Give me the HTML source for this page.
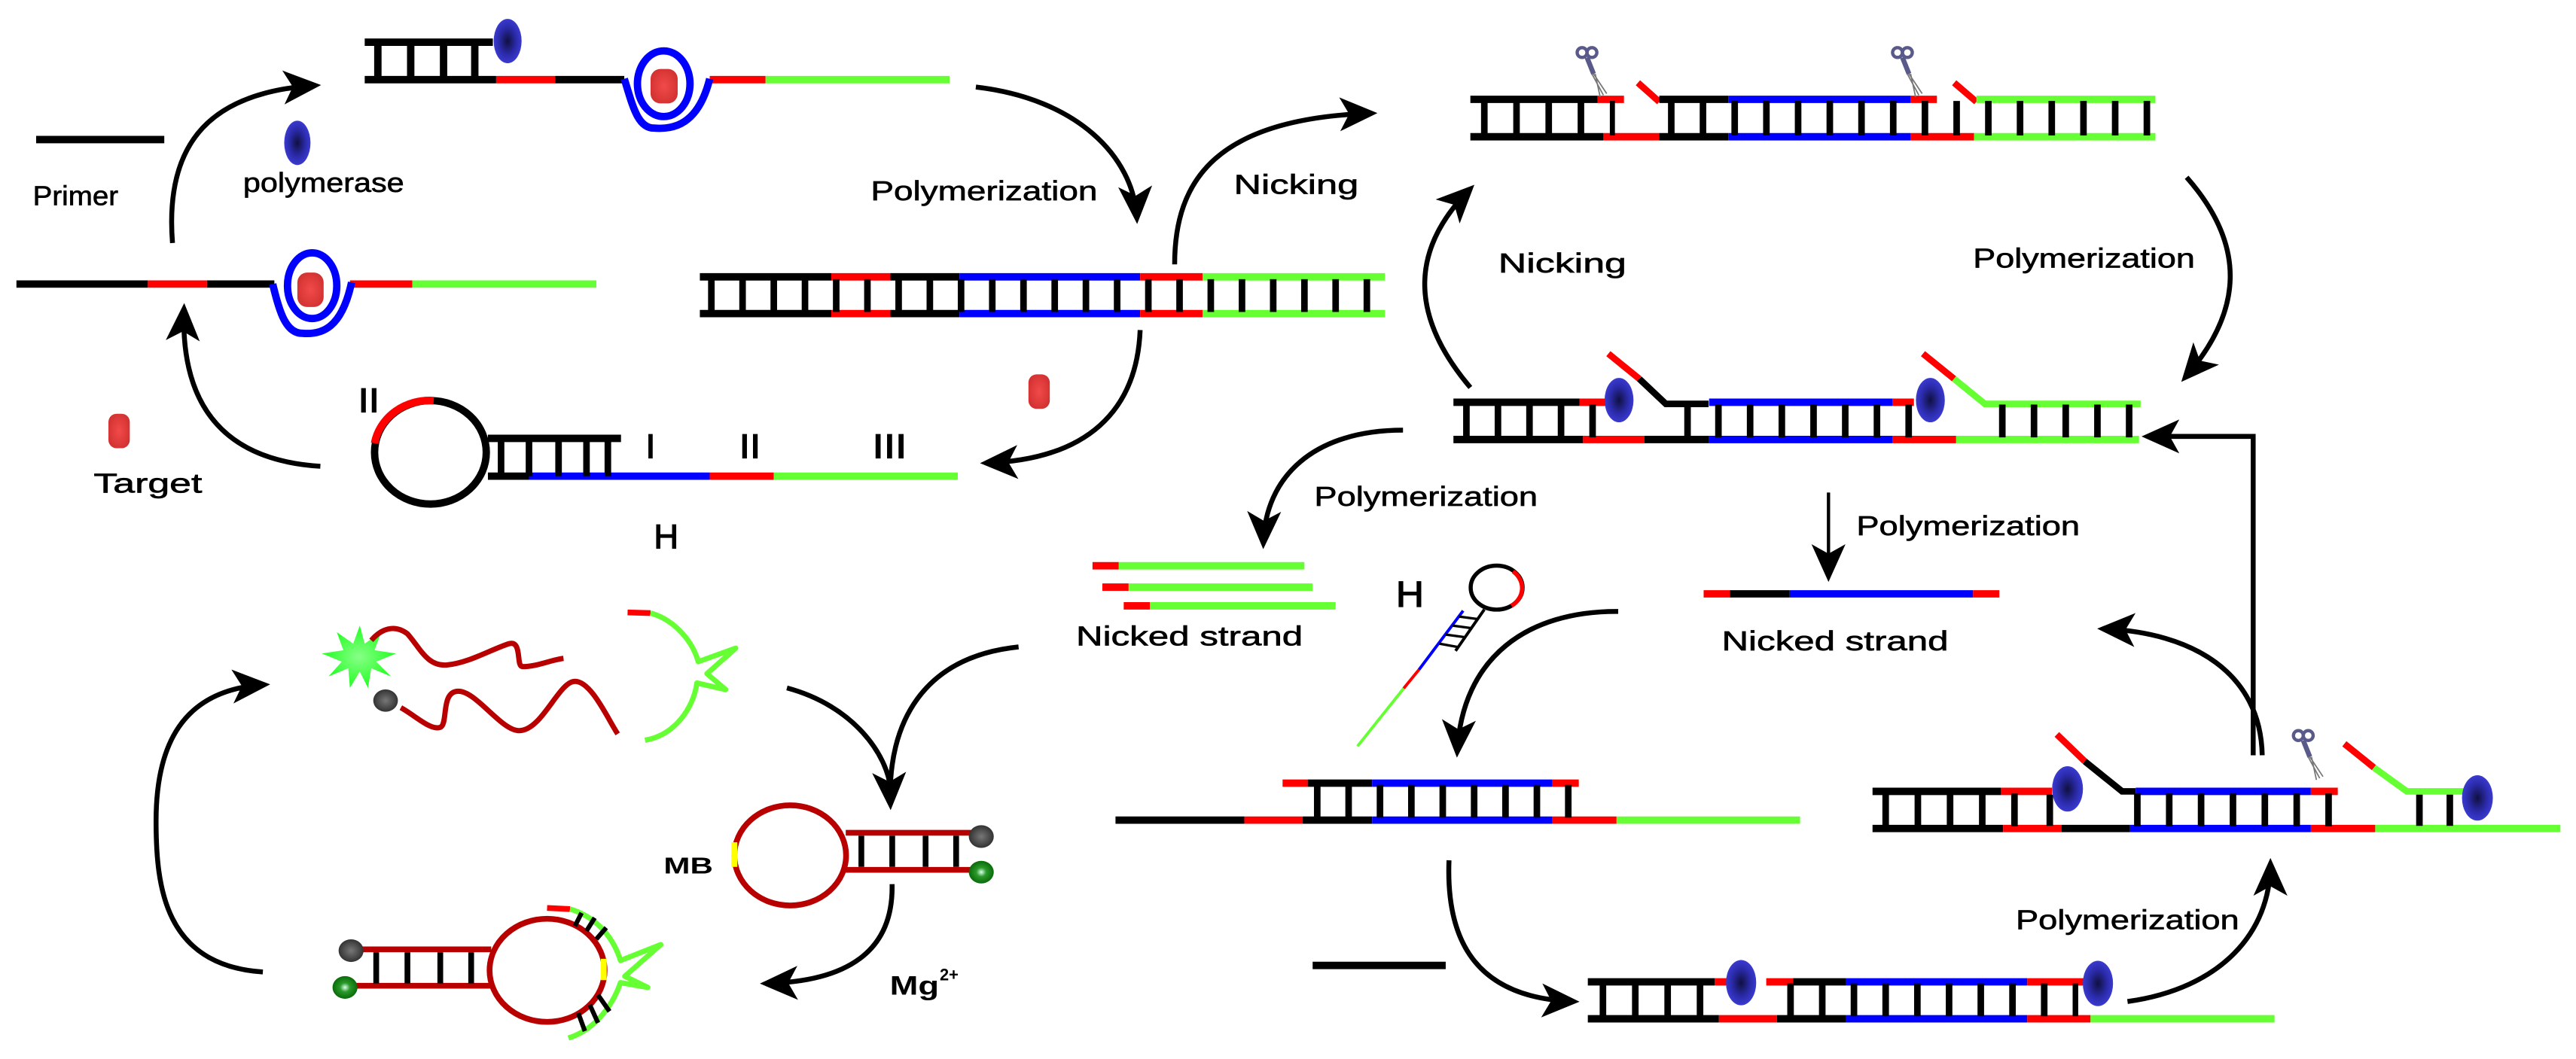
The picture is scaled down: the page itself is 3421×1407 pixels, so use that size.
<!DOCTYPE html>
<html><head><meta charset="utf-8"><style>
html,body{margin:0;padding:0;background:#fff;}
svg{display:block;}
text{font-family:"Liberation Sans",sans-serif;fill:#000;}
</style></head><body>
<svg width="3421" height="1407" viewBox="0 0 1568 645" preserveAspectRatio="none" xmlns="http://www.w3.org/2000/svg">
<defs>
<marker id="ah" viewBox="0 0 20 20" refX="17" refY="10" markerWidth="23" markerHeight="23" markerUnits="userSpaceOnUse" orient="auto">
<path d="M0,1 L20,10 L0,19 L5,10 Z" fill="#000"/></marker>
<radialGradient id="pg" cx="50%" cy="50%" r="50%"><stop offset="0" stop-color="#101040"/><stop offset="0.6" stop-color="#2a2aa8"/><stop offset="1" stop-color="#3a3ad0"/></radialGradient>
<radialGradient id="tg" cx="50%" cy="50%" r="60%"><stop offset="0" stop-color="#f24a4a"/><stop offset="1" stop-color="#d03030"/></radialGradient>
<radialGradient id="gb" cx="50%" cy="50%" r="50%"><stop offset="0" stop-color="#777"/><stop offset="1" stop-color="#333"/></radialGradient>
<radialGradient id="gg" cx="50%" cy="50%" r="50%"><stop offset="0" stop-color="#dfe"/><stop offset="0.4" stop-color="#2a9a2a"/><stop offset="1" stop-color="#0a6a0a"/></radialGradient>
<radialGradient id="sg" cx="50%" cy="50%" r="50%"><stop offset="0" stop-color="#8f8"/><stop offset="1" stop-color="#2f2"/></radialGradient>
<g id="sc"><circle cx="-3" cy="-1" r="3" fill="none" stroke="#5a5a8a" stroke-width="2"/><circle cx="3" cy="-1" r="3" fill="none" stroke="#5a5a8a" stroke-width="2"/><line x1="0" y1="2" x2="4" y2="12" stroke="#5a5a8a" stroke-width="3"/><path d="M3,12 L10,25 M4,12 L12,24 M5,12 L8,26" stroke="#777" stroke-width="0.8" fill="none"/></g>
</defs>

<g fill="none" stroke-linecap="butt">
<line x1="22" y1="85" x2="100" y2="85" stroke="#000" stroke-width="4.5"/>
<ellipse cx="181" cy="87" rx="8" ry="13.5" fill="url(#pg)" stroke="none"/>
<path d="M105,148 C100,85 130,56 192,52" stroke="#000" stroke-width="3" marker-end="url(#ah)"/>

<line x1="222" y1="25.7" x2="300" y2="25.7" stroke="#000" stroke-width="4.5"/>
<line x1="222" y1="48.5" x2="302" y2="48.5" stroke="#000" stroke-width="4.5"/>
<line x1="302" y1="48.5" x2="338" y2="48.5" stroke="#f00" stroke-width="4.5"/>
<line x1="338" y1="48.5" x2="380" y2="48.5" stroke="#000" stroke-width="4.5"/>
<line x1="432" y1="48.5" x2="466" y2="48.5" stroke="#f00" stroke-width="4.5"/>
<line x1="466" y1="48.5" x2="578" y2="48.5" stroke="#66ff33" stroke-width="4.5"/>
<g stroke="#000" stroke-width="4.5"><line x1="230" y1="26" x2="230" y2="48"/><line x1="250" y1="26" x2="250" y2="48"/><line x1="270" y1="26" x2="270" y2="48"/><line x1="289" y1="26" x2="289" y2="48"/></g>
<ellipse cx="309" cy="25" rx="8.5" ry="13.5" fill="url(#pg)" stroke="none"/>
<rect x="396" y="42" width="16.5" height="21" rx="6" fill="url(#tg)" stroke="none"/>
<ellipse cx="404" cy="51" rx="16" ry="20" stroke="#0000ff" stroke-width="4.5"/>
<path d="M380,48 C385,64 388,78 398,78 C410,79 425,76 432,48" stroke="#0000ff" stroke-width="4.5"/>

<path d="M594,53 C655,60 690,95 692,133" stroke="#000" stroke-width="3" marker-end="url(#ah)"/>

<line x1="10" y1="173" x2="90" y2="173" stroke="#000" stroke-width="4.5"/>
<line x1="90" y1="173" x2="126" y2="173" stroke="#f00" stroke-width="4.5"/>
<line x1="126" y1="173" x2="167" y2="173" stroke="#000" stroke-width="4.5"/>
<line x1="213" y1="173" x2="251" y2="173" stroke="#f00" stroke-width="4.5"/>
<line x1="251" y1="173" x2="363" y2="173" stroke="#66ff33" stroke-width="4.5"/>
<rect x="181" y="166" width="16" height="21" rx="6" fill="url(#tg)" stroke="none"/>
<ellipse cx="190" cy="174" rx="15" ry="20" stroke="#0000ff" stroke-width="4.5"/>
<path d="M166,173 C170,190 174,203 184,203 C196,204 208,200 214,172" stroke="#0000ff" stroke-width="4.5"/>

<path d="M195,284 C130,280 110,240 112,188" stroke="#000" stroke-width="3" marker-end="url(#ah)"/>
<rect x="66" y="252" width="13" height="21" rx="5" fill="url(#tg)" stroke="none"/>

<ellipse cx="262" cy="275.5" rx="34" ry="31.5" stroke="#000" stroke-width="4.5"/>
<path d="M228,270 A34,31.5 0 0 1 264,244" stroke="#f00" stroke-width="4.6"/>
<line x1="297" y1="267" x2="378" y2="267" stroke="#000" stroke-width="4.5"/>
<line x1="297" y1="290" x2="322" y2="290" stroke="#000" stroke-width="4.5"/>
<line x1="322" y1="290" x2="432" y2="290" stroke="#0000ff" stroke-width="4.5"/>
<line x1="432" y1="290" x2="471" y2="290" stroke="#f00" stroke-width="4.5"/>
<line x1="471" y1="290" x2="583" y2="290" stroke="#66ff33" stroke-width="4.5"/>
<g stroke="#000" stroke-width="4"><line x1="305" y1="267" x2="305" y2="290"/><line x1="322" y1="267" x2="322" y2="290"/><line x1="340" y1="267" x2="340" y2="290"/><line x1="357" y1="267" x2="357" y2="290"/><line x1="370" y1="267" x2="370" y2="290"/></g>

<line x1="426" y1="168.6" x2="506" y2="168.6" stroke="#000" stroke-width="4.5"/>
<line x1="506" y1="168.6" x2="542" y2="168.6" stroke="#f00" stroke-width="4.5"/>
<line x1="542" y1="168.6" x2="584" y2="168.6" stroke="#000" stroke-width="4.5"/>
<line x1="584" y1="168.6" x2="694" y2="168.6" stroke="#0000ff" stroke-width="4.5"/>
<line x1="694" y1="168.6" x2="732" y2="168.6" stroke="#f00" stroke-width="4.5"/>
<line x1="732" y1="168.6" x2="843" y2="168.6" stroke="#66ff33" stroke-width="4.5"/>
<line x1="426" y1="191" x2="506" y2="191" stroke="#000" stroke-width="4.5"/>
<line x1="506" y1="191" x2="542" y2="191" stroke="#f00" stroke-width="4.5"/>
<line x1="542" y1="191" x2="584" y2="191" stroke="#000" stroke-width="4.5"/>
<line x1="584" y1="191" x2="694" y2="191" stroke="#0000ff" stroke-width="4.5"/>
<line x1="694" y1="191" x2="732" y2="191" stroke="#f00" stroke-width="4.5"/>
<line x1="732" y1="191" x2="843" y2="191" stroke="#66ff33" stroke-width="4.5"/>
<line x1="431" y1="180" x2="842" y2="180" stroke="#000" stroke-width="20" stroke-dasharray="4 15"/>

<rect x="626" y="228" width="13" height="21" rx="5" fill="url(#tg)" stroke="none"/>
<path d="M694,201 C692,250 662,280 600,282" stroke="#000" stroke-width="3" marker-end="url(#ah)"/>
<path d="M715,161 C715,110 740,72 835,69" stroke="#000" stroke-width="3" marker-end="url(#ah)"/>

<line x1="895" y1="60.5" x2="972.5" y2="60.5" stroke="#000" stroke-width="4.5"/>
<line x1="972.5" y1="60.5" x2="988.5" y2="60.5" stroke="#f00" stroke-width="4.5"/>
<line x1="997" y1="50.4" x2="1010" y2="62" stroke="#f00" stroke-width="4"/>
<line x1="1010" y1="60.5" x2="1052" y2="60.5" stroke="#000" stroke-width="4.5"/>
<line x1="1052" y1="60.5" x2="1163" y2="60.5" stroke="#0000ff" stroke-width="4.5"/>
<line x1="1163" y1="60.5" x2="1179" y2="60.5" stroke="#f00" stroke-width="4.5"/>
<line x1="1189.5" y1="50.4" x2="1203" y2="62" stroke="#f00" stroke-width="4"/>
<line x1="1203" y1="60.5" x2="1312" y2="60.5" stroke="#66ff33" stroke-width="4.5"/>
<line x1="895" y1="83.3" x2="976" y2="83.3" stroke="#000" stroke-width="4.5"/>
<line x1="976" y1="83.3" x2="1010" y2="83.3" stroke="#f00" stroke-width="4.5"/>
<line x1="1010" y1="83.3" x2="1052" y2="83.3" stroke="#000" stroke-width="4.5"/>
<line x1="1052" y1="83.3" x2="1163" y2="83.3" stroke="#0000ff" stroke-width="4.5"/>
<line x1="1163" y1="83.3" x2="1201.6" y2="83.3" stroke="#f00" stroke-width="4.5"/>
<line x1="1201.6" y1="83.3" x2="1312" y2="83.3" stroke="#66ff33" stroke-width="4.5"/>
<line x1="901.5" y1="72" x2="983" y2="72" stroke="#000" stroke-width="21" stroke-dasharray="4 15.6"/>
<line x1="1015.3" y1="72" x2="1312" y2="72" stroke="#000" stroke-width="21" stroke-dasharray="4 15.3"/>
<use href="#sc" x="966" y="33"/>
<use href="#sc" x="1158" y="33"/>

<path d="M895,236 C856,190 860,150 895,115" stroke="#000" stroke-width="3" marker-end="url(#ah)"/>
<path d="M1331,108 C1368,150 1365,190 1330,230" stroke="#000" stroke-width="3" marker-end="url(#ah)"/>

<line x1="884.7" y1="245" x2="961.4" y2="245" stroke="#000" stroke-width="4.5"/>
<line x1="961.4" y1="245" x2="977" y2="245" stroke="#f00" stroke-width="4.5"/>
<line x1="979" y1="215.4" x2="997.8" y2="230.7" stroke="#f00" stroke-width="4"/>
<polyline points="997.8,230.7 1014,246 1040,246" stroke="#000" stroke-width="4"/>
<line x1="1040.3" y1="245" x2="1152" y2="245" stroke="#0000ff" stroke-width="4.5"/>
<line x1="1152" y1="245" x2="1165" y2="245" stroke="#f00" stroke-width="4.5"/>
<line x1="1170.5" y1="215.4" x2="1189.4" y2="230.7" stroke="#f00" stroke-width="4"/>
<polyline points="1189.4,230.7 1208.2,246 1303,246" stroke="#66ff33" stroke-width="4"/>
<line x1="884.7" y1="267.7" x2="963.6" y2="267.7" stroke="#000" stroke-width="4.5"/>
<line x1="963.6" y1="267.7" x2="1000.9" y2="267.7" stroke="#f00" stroke-width="4.5"/>
<line x1="1000.9" y1="267.7" x2="1040.3" y2="267.7" stroke="#000" stroke-width="4.5"/>
<line x1="1040.3" y1="267.7" x2="1152" y2="267.7" stroke="#0000ff" stroke-width="4.5"/>
<line x1="1152" y1="267.7" x2="1190.7" y2="267.7" stroke="#f00" stroke-width="4.5"/>
<line x1="1190.7" y1="267.7" x2="1302" y2="267.7" stroke="#66ff33" stroke-width="4.5"/>
<line x1="890.6" y1="256.4" x2="972" y2="256.4" stroke="#000" stroke-width="20" stroke-dasharray="4 15.2"/>
<line x1="1027.2" y1="246" x2="1027.2" y2="267" stroke="#000" stroke-width="4"/>
<line x1="1044" y1="256.4" x2="1165" y2="256.4" stroke="#000" stroke-width="20" stroke-dasharray="4 15.3"/>
<line x1="1216.8" y1="256.4" x2="1300" y2="256.4" stroke="#000" stroke-width="20" stroke-dasharray="4 15.3"/>
<ellipse cx="985.5" cy="243.7" rx="8.8" ry="13.5" fill="url(#pg)" stroke="none"/>
<ellipse cx="1175" cy="243.7" rx="8.8" ry="13.5" fill="url(#pg)" stroke="none"/>

<polyline points="1371.5,460 1371.5,265.8 1307,265.8" stroke="#000" stroke-width="3" marker-end="url(#ah)"/>
<path d="M854,262 C800,262 770,290 769,331" stroke="#000" stroke-width="3" marker-end="url(#ah)"/>
<line x1="1113" y1="300" x2="1113" y2="351" stroke="#000" stroke-width="2" marker-end="url(#ah)"/>

<line x1="665" y1="344.6" x2="681" y2="344.6" stroke="#f00" stroke-width="4.5"/>
<line x1="681" y1="344.6" x2="794" y2="344.6" stroke="#66ff33" stroke-width="4.5"/>
<line x1="671" y1="357.6" x2="687" y2="357.6" stroke="#f00" stroke-width="4.5"/>
<line x1="687" y1="357.6" x2="799" y2="357.6" stroke="#66ff33" stroke-width="4.5"/>
<line x1="684" y1="369" x2="700" y2="369" stroke="#f00" stroke-width="4.5"/>
<line x1="700" y1="369" x2="813" y2="369" stroke="#66ff33" stroke-width="4.5"/>

<line x1="1037" y1="361.7" x2="1053" y2="361.7" stroke="#f00" stroke-width="4.5"/>
<line x1="1053" y1="361.7" x2="1089.4" y2="361.7" stroke="#000" stroke-width="4.5"/>
<line x1="1089.4" y1="361.7" x2="1201" y2="361.7" stroke="#0000ff" stroke-width="4.5"/>
<line x1="1201" y1="361.7" x2="1217" y2="361.7" stroke="#f00" stroke-width="4.5"/>

<ellipse cx="911" cy="357.9" rx="15.8" ry="13.4" stroke="#000" stroke-width="2.5"/>
<path d="M921,348 A15.8,13.4 0 0 1 920,369" stroke="#f00" stroke-width="2.6"/>
<line x1="890.6" y1="372" x2="863.7" y2="407.9" stroke="#0000ff" stroke-width="1.8"/>
<line x1="863.7" y1="407.9" x2="854.4" y2="419.3" stroke="#f00" stroke-width="1.8"/>
<line x1="854.4" y1="419.3" x2="826.3" y2="454.5" stroke="#66ff33" stroke-width="1.8"/>
<line x1="903.5" y1="371.2" x2="886" y2="396.4" stroke="#000" stroke-width="1.8"/>
<g stroke="#000" stroke-width="1.5"><line x1="888" y1="375.5" x2="899" y2="377"/><line x1="884" y1="381" x2="895" y2="382.5"/><line x1="880" y1="386.5" x2="891" y2="388"/><line x1="876" y1="392" x2="887" y2="394"/></g>
<path d="M985,372.4 C930,372 890,400 887,458" stroke="#000" stroke-width="3" marker-end="url(#ah)"/>

<line x1="780.7" y1="477" x2="796" y2="477" stroke="#f00" stroke-width="4.5"/>
<line x1="796" y1="477" x2="835.2" y2="477" stroke="#000" stroke-width="4.5"/>
<line x1="835.2" y1="477" x2="945" y2="477" stroke="#0000ff" stroke-width="4.5"/>
<line x1="945" y1="477" x2="961" y2="477" stroke="#f00" stroke-width="4.5"/>
<line x1="679" y1="499.5" x2="757.4" y2="499.5" stroke="#000" stroke-width="4.5"/>
<line x1="757.4" y1="499.5" x2="793" y2="499.5" stroke="#f00" stroke-width="4.5"/>
<line x1="793" y1="499.5" x2="835.2" y2="499.5" stroke="#000" stroke-width="4.5"/>
<line x1="835.2" y1="499.5" x2="945" y2="499.5" stroke="#0000ff" stroke-width="4.5"/>
<line x1="945" y1="499.5" x2="984" y2="499.5" stroke="#f00" stroke-width="4.5"/>
<line x1="984" y1="499.5" x2="1095.7" y2="499.5" stroke="#66ff33" stroke-width="4.5"/>
<line x1="799.8" y1="488" x2="960" y2="488" stroke="#000" stroke-width="20" stroke-dasharray="4 15.1"/>

<path d="M882,524 C880,575 900,608 958,610" stroke="#000" stroke-width="3" marker-end="url(#ah)"/>
<line x1="799" y1="588" x2="880" y2="588" stroke="#000" stroke-width="4.5"/>

<line x1="966.5" y1="598" x2="1043.8" y2="598" stroke="#000" stroke-width="4.5"/>
<line x1="1043.8" y1="598" x2="1052" y2="598" stroke="#f00" stroke-width="4.5"/>
<line x1="1075.1" y1="598" x2="1091.4" y2="598" stroke="#f00" stroke-width="4.5"/>
<line x1="1091.4" y1="598" x2="1123.6" y2="598" stroke="#000" stroke-width="4.5"/>
<line x1="1123.6" y1="598" x2="1234" y2="598" stroke="#0000ff" stroke-width="4.5"/>
<line x1="1234" y1="598" x2="1269.4" y2="598" stroke="#f00" stroke-width="4.5"/>
<line x1="966.5" y1="620.5" x2="1046.3" y2="620.5" stroke="#000" stroke-width="4.5"/>
<line x1="1046.3" y1="620.5" x2="1081.6" y2="620.5" stroke="#f00" stroke-width="4.5"/>
<line x1="1081.6" y1="620.5" x2="1123.6" y2="620.5" stroke="#000" stroke-width="4.5"/>
<line x1="1123.6" y1="620.5" x2="1234" y2="620.5" stroke="#0000ff" stroke-width="4.5"/>
<line x1="1234" y1="620.5" x2="1272.5" y2="620.5" stroke="#f00" stroke-width="4.5"/>
<line x1="1272.5" y1="620.5" x2="1384.5" y2="620.5" stroke="#66ff33" stroke-width="4.5"/>
<line x1="973.7" y1="609" x2="1040" y2="609" stroke="#000" stroke-width="20" stroke-dasharray="4 15.7"/>
<line x1="1087.9" y1="609" x2="1265" y2="609" stroke="#000" stroke-width="20" stroke-dasharray="4 15.3"/>
<ellipse cx="1059.8" cy="598.5" rx="9.2" ry="13.8" fill="url(#pg)" stroke="none"/>
<ellipse cx="1277" cy="599" rx="9.2" ry="13.8" fill="url(#pg)" stroke="none"/>
<path d="M1295,610 C1352,602 1382,568 1382,526" stroke="#000" stroke-width="3" marker-end="url(#ah)"/>

<line x1="1139.8" y1="482" x2="1218" y2="482" stroke="#000" stroke-width="4.5"/>
<line x1="1218" y1="482" x2="1249" y2="482" stroke="#f00" stroke-width="4.5"/>
<line x1="1252" y1="447.3" x2="1269" y2="463.7" stroke="#f00" stroke-width="4"/>
<polyline points="1269,463.7 1291.7,482 1300,482" stroke="#000" stroke-width="4"/>
<line x1="1300" y1="482" x2="1406.6" y2="482" stroke="#0000ff" stroke-width="4.5"/>
<line x1="1406.6" y1="482" x2="1423" y2="482" stroke="#f00" stroke-width="4.5"/>
<line x1="1427" y1="453" x2="1445" y2="467.5" stroke="#f00" stroke-width="4"/>
<polyline points="1445,467.5 1465,482 1500,482" stroke="#66ff33" stroke-width="4"/>
<line x1="1139.8" y1="504.6" x2="1219.3" y2="504.6" stroke="#000" stroke-width="4.5"/>
<line x1="1219.3" y1="504.6" x2="1254.8" y2="504.6" stroke="#f00" stroke-width="4.5"/>
<line x1="1254.8" y1="504.6" x2="1296.5" y2="504.6" stroke="#000" stroke-width="4.5"/>
<line x1="1296.5" y1="504.6" x2="1406.6" y2="504.6" stroke="#0000ff" stroke-width="4.5"/>
<line x1="1406.6" y1="504.6" x2="1445.8" y2="504.6" stroke="#f00" stroke-width="4.5"/>
<line x1="1445.8" y1="504.6" x2="1558.5" y2="504.6" stroke="#66ff33" stroke-width="4.5"/>
<line x1="1145.8" y1="493.3" x2="1230" y2="493.3" stroke="#000" stroke-width="20" stroke-dasharray="4 15.6"/>
<line x1="1247.7" y1="484" x2="1247.7" y2="503" stroke="#000" stroke-width="4"/>
<line x1="1299" y1="493.3" x2="1420" y2="493.3" stroke="#000" stroke-width="20" stroke-dasharray="4 15.4"/>
<line x1="1472.7" y1="484" x2="1472.7" y2="503" stroke="#000" stroke-width="4"/>
<line x1="1491.2" y1="484" x2="1491.2" y2="503" stroke="#000" stroke-width="4"/>
<ellipse cx="1258.5" cy="480.5" rx="9.4" ry="13.8" fill="url(#pg)" stroke="none"/>
<ellipse cx="1508" cy="486" rx="9.4" ry="13.8" fill="url(#pg)" stroke="none"/>
<use href="#sc" x="1402" y="449"/>
<path d="M1377,460 C1376,410 1335,385 1280,383" stroke="#000" stroke-width="3" marker-end="url(#ah)"/>

<path d="M620,394 C562,400 540,440 542,490" stroke="#000" stroke-width="3" marker-end="url(#ah)"/>
<path d="M479,419 C520,430 540,460 542,480" stroke="#000" stroke-width="3"/>

<polygon points="219,381 222,392 232,385 228,396 241,398 229,403 238,412 226,407 224,419 219,409 213,419 212,407 200,412 208,403 196,398 209,396 205,385 215,392" fill="url(#sg)" stroke="none"/>
<path d="M226,390 C232,383 240,380 248,386 C256,395 260,406 272,405 C285,404 300,395 310,392 C318,390 314,406 318,406 C327,406 335,402 343,401" stroke="#b80000" stroke-width="3.2"/>
<ellipse cx="234.7" cy="426.7" rx="7.5" ry="6.8" fill="url(#gb)" stroke="none"/>
<path d="M244,431 C253,436 262,445 268,443 C273,441 268,421 279,421 C290,421 305,445 316,445 C330,445 340,415 350,415 C360,415 370,438 376,447" stroke="#b80000" stroke-width="3.2"/>
<line x1="382" y1="373" x2="396" y2="373.4" stroke="#f00" stroke-width="3.5"/>
<path d="M396,373.4 C412,378 422,392 425,403 L447.8,394.8 L430.3,410.3 L441.7,420 L424.2,416 C422,432 410,448 392.6,450.8" stroke="#66ff33" stroke-width="3.2" stroke-linejoin="round"/>

<path d="M160,592 C100,588 95,540 95,500 C95,455 110,420 161,417" stroke="#000" stroke-width="3" marker-end="url(#ah)"/>

<ellipse cx="481" cy="521" rx="34" ry="30.5" stroke="#b80000" stroke-width="3.5"/>
<line x1="447" y1="513" x2="447" y2="528" stroke="#ffff00" stroke-width="3.6"/>
<line x1="514.8" y1="507.2" x2="591.2" y2="507.2" stroke="#b80000" stroke-width="3.5"/>
<line x1="514.8" y1="529.8" x2="591.2" y2="529.8" stroke="#b80000" stroke-width="3.5"/>
<g stroke="#000" stroke-width="3.5"><line x1="524.3" y1="509" x2="524.3" y2="528"/><line x1="543.1" y1="509" x2="543.1" y2="528"/><line x1="563.4" y1="509" x2="563.4" y2="528"/><line x1="582" y1="509" x2="582" y2="528"/></g>
<ellipse cx="597.3" cy="509.5" rx="7.6" ry="6.9" fill="url(#gb)" stroke="none"/>
<ellipse cx="597.3" cy="531.2" rx="7.6" ry="6.9" fill="url(#gg)" stroke="none"/>
<path d="M543,538.5 C544,580 515,598 466,599" stroke="#000" stroke-width="3" marker-end="url(#ah)"/>

<ellipse cx="333" cy="591" rx="35" ry="31.4" stroke="#b80000" stroke-width="3.5"/>
<line x1="367.5" y1="584" x2="367.5" y2="597" stroke="#ffff00" stroke-width="3.6"/>
<line x1="213.7" y1="578.2" x2="299" y2="578.2" stroke="#b80000" stroke-width="3.5"/>
<line x1="210" y1="600.4" x2="299" y2="600.4" stroke="#b80000" stroke-width="3.5"/>
<g stroke="#000" stroke-width="3.5"><line x1="229" y1="580" x2="229" y2="599"/><line x1="248" y1="580" x2="248" y2="599"/><line x1="268" y1="580" x2="268" y2="599"/><line x1="286.8" y1="580" x2="286.8" y2="599"/></g>
<ellipse cx="213.7" cy="579" rx="7.6" ry="6.9" fill="url(#gb)" stroke="none"/>
<ellipse cx="210" cy="601.4" rx="7.6" ry="6.9" fill="url(#gg)" stroke="none"/>
<line x1="333" y1="553" x2="347" y2="553.7" stroke="#f00" stroke-width="3.5"/>
<path d="M347,553.7 C362,558 373,570 377.7,585 L402.2,575.3 L380.3,594.6 L394.3,601.4 L377.7,598.5 C372,615 360,628 346,632.2" stroke="#66ff33" stroke-width="3.2" stroke-linejoin="round"/>
<g stroke="#000" stroke-width="2.8"><line x1="350" y1="564" x2="354" y2="556"/><line x1="357" y1="567" x2="362" y2="559"/><line x1="363" y1="572" x2="369" y2="565"/><line x1="352" y1="617" x2="356" y2="628"/><line x1="359" y1="612" x2="364" y2="623"/><line x1="364" y1="606" x2="371" y2="616"/></g>
</g>

<g font-size="16.5" stroke="#000" stroke-width="0.3">
<text x="20" y="125" textLength="52" lengthAdjust="spacingAndGlyphs">Primer</text>
<text x="148" y="117" textLength="98" lengthAdjust="spacingAndGlyphs">polymerase</text>
<text x="530" y="122" textLength="138" lengthAdjust="spacingAndGlyphs">Polymerization</text>
<text x="751" y="118" textLength="76" lengthAdjust="spacingAndGlyphs">Nicking</text>
<text x="57" y="300" textLength="66" lengthAdjust="spacingAndGlyphs">Target</text>
<text x="912" y="166" textLength="78" lengthAdjust="spacingAndGlyphs">Nicking</text>
<text x="1201" y="163" textLength="135" lengthAdjust="spacingAndGlyphs">Polymerization</text>
<text x="800" y="308" textLength="136" lengthAdjust="spacingAndGlyphs">Polymerization</text>
<text x="1130" y="326" textLength="136" lengthAdjust="spacingAndGlyphs">Polymerization</text>
<text x="1227" y="566" textLength="136" lengthAdjust="spacingAndGlyphs">Polymerization</text>
<text x="655" y="393" textLength="138" lengthAdjust="spacingAndGlyphs">Nicked strand</text>
<text x="1048" y="396" textLength="138" lengthAdjust="spacingAndGlyphs">Nicked strand</text>
</g>
<g font-size="21" stroke="#000" stroke-width="0.6">
<text x="218" y="251" textLength="13" lengthAdjust="spacingAndGlyphs">II</text>
<text x="393" y="279" textLength="6" lengthAdjust="spacingAndGlyphs">I</text>
<text x="450" y="279" textLength="13" lengthAdjust="spacingAndGlyphs">II</text>
<text x="531" y="279" textLength="21" lengthAdjust="spacingAndGlyphs">III</text>
<text x="398" y="334" textLength="15" lengthAdjust="spacingAndGlyphs">H</text>
<text x="849.7" y="369.4" font-size="22" textLength="17" lengthAdjust="spacingAndGlyphs">H</text>
</g>
<text x="404" y="532" font-size="14" font-weight="bold" textLength="30" lengthAdjust="spacingAndGlyphs">MB</text>
<text x="541.6" y="605.8" font-size="16" font-weight="bold" textLength="30" lengthAdjust="spacingAndGlyphs">Mg</text>
<text x="572" y="597" font-size="10" font-weight="bold">2+</text>
</svg>
</body></html>
